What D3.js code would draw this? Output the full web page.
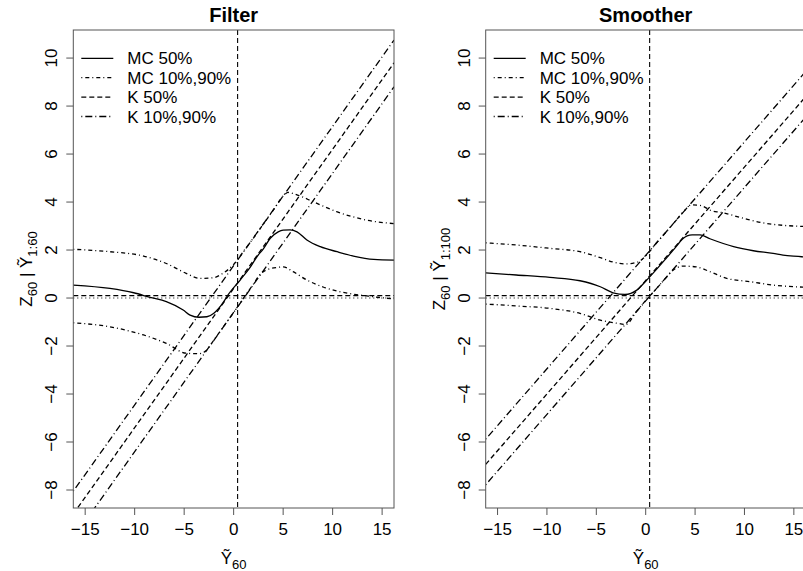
<!DOCTYPE html>
<meta charset="utf-8">
<html>
<head>
<title>Filter and Smoother</title>
<script src="https://d3js.org/d3.v7.min.js"></script>
<style>
  html, body { margin: 0; padding: 0; background: #fff; }
  body { font-family: "Liberation Sans", Arial, Helvetica, sans-serif; }
  .frame { fill: none; stroke: #555; stroke-width: 1; }
  .tick-line { stroke: #555; stroke-width: 1; }
  text { fill: #000; }
</style>
</head>
<body>
<div id="chart"></div>
<script>
// tick values and legend text
var xTicks = [-15, -10, -5, 0, 5, 10, 15];
var yTicks = [-8, -6, -4, -2, 0, 2, 4, 6, 8, 10];
var legendLabels = ["MC 50%", "MC 10%,90%", "K 50%", "K 10%,90%"];
var panelTitles = ["Filter", "Smoother"];
var ySubs = ["1:60", "1:100"];

// Kalman quantile lines (value at each end of kX)
var kX = [-16.2, 16.2];
var filterK50 = [-9.0, 9.8];
var filterK10 = [-10.0, 8.8];
var filterK90 = [-8.05, 10.75];
var smootherK50 = [-6.93, 8.39];
var smootherK10 = [-7.78, 7.54];
var smootherK90 = [-5.88, 9.44];

// Monte Carlo quantiles, [x, z]
var filterMC50 = [[-16.2,0.54],[-12.5,0.40],[-10.1,0.22],[-8.45,0.03],[-6.8,-0.15],[-5.1,-0.5],[-4.4,-0.71],[-3.5,-0.8],[-2.7,-0.78],[-2.0,-0.63],[-1.0,-0.15],[-0.7,0.05],[0.66,0.75],[1.7,1.3],[2.35,1.72],[3.0,2.05],[3.7,2.49],[4.5,2.76],[5.0,2.83],[5.7,2.84],[6.4,2.76],[7.4,2.42],[8.75,2.14],[10.45,1.93],[12.1,1.75],[14.15,1.61],[16.2,1.58]];
var filterMC90 = [[-16.2,2.03],[-12.5,1.93],[-9.1,1.75],[-6.8,1.44],[-4.8,1.03],[-3.4,0.82],[-2.0,0.85],[-1.2,1.0],[0,1.4],[1,1.95],[2,2.5],[3,3.08],[4,3.66],[5,4.25],[5.5,4.4],[6.4,4.3],[8.1,4.0],[10.4,3.6],[13.4,3.25],[16.2,3.1]];
var filterMC10 = [[-16.2,-1.03],[-12.5,-1.2],[-9.1,-1.54],[-6.8,-1.89],[-4.8,-2.3],[-3.5,-2.32],[-2.8,-2.2],[-2,-1.75],[-1,-1.18],[0,-0.6],[1,0],[2,0.58],[2.7,1.0],[3.5,1.2],[4.5,1.28],[5.0,1.3],[6.0,1.1],[7.4,0.75],[9.1,0.45],[11.5,0.2],[13.6,0.08],[16.2,-0.04]];
var smootherMC50 = [[-16.2,1.05],[-13.1,0.96],[-9.7,0.86],[-6.65,0.72],[-4.6,0.47],[-3.3,0.22],[-2.1,0.15],[-0.9,0.33],[0,0.7],[1,1.15],[2,1.62],[3,2.1],[3.7,2.45],[4.7,2.63],[5.5,2.63],[6.5,2.47],[8.9,2.14],[10.9,1.97],[12.9,1.86],[13.9,1.79],[15.8,1.72],[16.2,1.70]];
var smootherMC90 = [[-16.2,2.30],[-13.1,2.21],[-9.7,2.07],[-6.65,1.93],[-4.6,1.68],[-3.3,1.5],[-2,1.42],[-0.8,1.5],[0,1.75],[1,2.25],[2,2.72],[3,3.2],[4,3.68],[4.6,3.88],[5.5,3.86],[6.8,3.62],[7.5,3.58],[9.9,3.32],[12.2,3.11],[16.2,2.98]];
var smootherMC10 = [[-16.2,-0.25],[-13.1,-0.33],[-9.7,-0.43],[-6.65,-0.64],[-4.6,-0.92],[-2.9,-1.05],[-2.0,-1.1],[-1,-0.6],[0,-0.1],[1,0.35],[2,0.82],[2.8,1.17],[3.8,1.33],[5.1,1.3],[6.5,1.1],[8.2,0.82],[10.6,0.68],[12.9,0.54],[16.2,0.45]];

// reference lines
var obsX = 0.4;
var refDashed = 0.1;
var refDotted = 0;

var panels = [
  {left: 73.3, right: 394, title: panelTitles[0], sub: ySubs[0], mc50: filterMC50, mc10: filterMC10, mc90: filterMC90, k50: filterK50, k10: filterK10, k90: filterK90},
  {left: 485.7, right: 805.7, title: panelTitles[1], sub: ySubs[1], mc50: smootherMC50, mc10: smootherMC10, mc90: smootherMC90, k50: smootherK50, k10: smootherK10, k90: smootherK90}
];

var plotTop = 30, plotBottom = 508;
var styles = {
  mc50: "none",
  mc1090: "1,3,4,3",
  k50: "5,3",
  k1090: "1,3,7,3"
};

var svg = d3.select("#chart").append("svg")
  .attr("width", 803).attr("height", 571);

panels.forEach(function(p, pi) {
  var x = d3.scaleLinear().domain([-16.2, 16.2]).range([p.left, p.right]);
  var y = d3.scaleLinear().domain([-8.75, 11.17]).range([plotBottom, plotTop]);

  var clipId = "clip" + pi;
  svg.append("clipPath").attr("id", clipId)
    .append("rect")
      .attr("x", p.left).attr("y", plotTop)
      .attr("width", p.right - p.left).attr("height", plotBottom - plotTop);

  var g = svg.append("g").attr("clip-path", "url(#" + clipId + ")");

  // reference lines
  g.append("line")
    .attr("x1", p.left).attr("x2", p.right)
    .attr("y1", y(refDotted)).attr("y2", y(refDotted))
    .attr("stroke", "#000").attr("stroke-width", 1.1).attr("stroke-dasharray", "1,3");
  g.append("line")
    .attr("x1", p.left).attr("x2", p.right)
    .attr("y1", y(refDashed)).attr("y2", y(refDashed))
    .attr("stroke", "#000").attr("stroke-width", 1.1).attr("stroke-dasharray", "5,3");
  g.append("line")
    .attr("x1", x(obsX)).attr("x2", x(obsX))
    .attr("y1", plotTop).attr("y2", plotBottom)
    .attr("stroke", "#000").attr("stroke-width", 1.1).attr("stroke-dasharray", "5,3");

  var line = d3.line()
    .x(function(d) { return x(d[0]); })
    .y(function(d) { return y(d[1]); })
    .curve(d3.curveMonotoneX);

  var kLines = [[p.k50, styles.k50], [p.k10, styles.k1090], [p.k90, styles.k1090]];
  kLines.forEach(function(k) {
    var pts = kX.map(function(v, i) { return [v, k[0][i]]; });
    g.append("path")
      .attr("d", d3.line().x(function(d) { return x(d[0]); }).y(function(d) { return y(d[1]); })(pts))
      .attr("fill", "none").attr("stroke", "#000").attr("stroke-width", 1.3)
      .attr("stroke-dasharray", k[1]);
  });

  [[p.mc10, styles.mc1090], [p.mc90, styles.mc1090], [p.mc50, styles.mc50]].forEach(function(m) {
    g.append("path")
      .attr("d", line(m[0]))
      .attr("fill", "none").attr("stroke", "#000").attr("stroke-width", 1.3)
      .attr("stroke-dasharray", m[1]);
  });

  // frame
  svg.append("rect").attr("class", "frame")
    .attr("x", p.left).attr("y", plotTop)
    .attr("width", p.right - p.left).attr("height", plotBottom - plotTop);

  // x axis
  xTicks.forEach(function(t) {
    svg.append("line").attr("class", "tick-line")
      .attr("x1", x(t)).attr("x2", x(t)).attr("y1", plotBottom).attr("y2", plotBottom + 7);
    svg.append("text")
      .attr("x", x(t)).attr("y", plotBottom + 27)
      .attr("text-anchor", "middle").style("font-size", "17px")
      .text(t < 0 ? "\u2212" + Math.abs(t) : t);
  });

  // y axis
  yTicks.forEach(function(t) {
    svg.append("line").attr("class", "tick-line")
      .attr("x1", p.left - 7).attr("x2", p.left).attr("y1", y(t)).attr("y2", y(t));
    svg.append("text")
      .attr("transform", "translate(" + (p.left - 16) + "," + y(t) + ") rotate(-90)")
      .attr("text-anchor", "middle").style("font-size", "17px")
      .text(t < 0 ? "\u2212" + Math.abs(t) : t);
  });

  // title
  svg.append("text")
    .attr("x", (p.left + p.right) / 2).attr("y", 22)
    .attr("text-anchor", "middle")
    .style("font-size", "20px").style("font-weight", "bold")
    .text(p.title);

  // x label
  var xl = svg.append("text")
    .attr("x", (p.left + p.right) / 2).attr("y", 564)
    .attr("text-anchor", "middle").style("font-size", "17px");
  xl.append("tspan").text("\u1EF8");
  xl.append("tspan").attr("dy", 5).style("font-size", "13px").text("60");

  // y label
  var yl = svg.append("text")
    .attr("transform", "translate(" + (p.left - 41) + "," + ((plotTop + plotBottom) / 2) + ") rotate(-90)")
    .attr("text-anchor", "middle").style("font-size", "17px");
  yl.append("tspan").text("Z");
  yl.append("tspan").attr("dy", 5).style("font-size", "13px").text("60");
  yl.append("tspan").attr("dy", -5).text(" | \u1EF8");
  yl.append("tspan").attr("dy", 5).style("font-size", "13px").text(p.sub);

  // legend
  var dashes = [styles.mc50, styles.mc1090, styles.k50, styles.k1090];
  legendLabels.forEach(function(lab, i) {
    var ly = 58.3 + i * 19.4;
    svg.append("line")
      .attr("x1", p.left + 8).attr("x2", p.left + 40)
      .attr("y1", ly).attr("y2", ly)
      .attr("stroke", "#000").attr("stroke-width", 1.3)
      .attr("stroke-dasharray", dashes[i]);
    svg.append("text")
      .attr("x", p.left + 54).attr("y", ly + 6)
      .style("font-size", "17px")
      .text(lab);
  });
});
</script>
</body>
</html>
